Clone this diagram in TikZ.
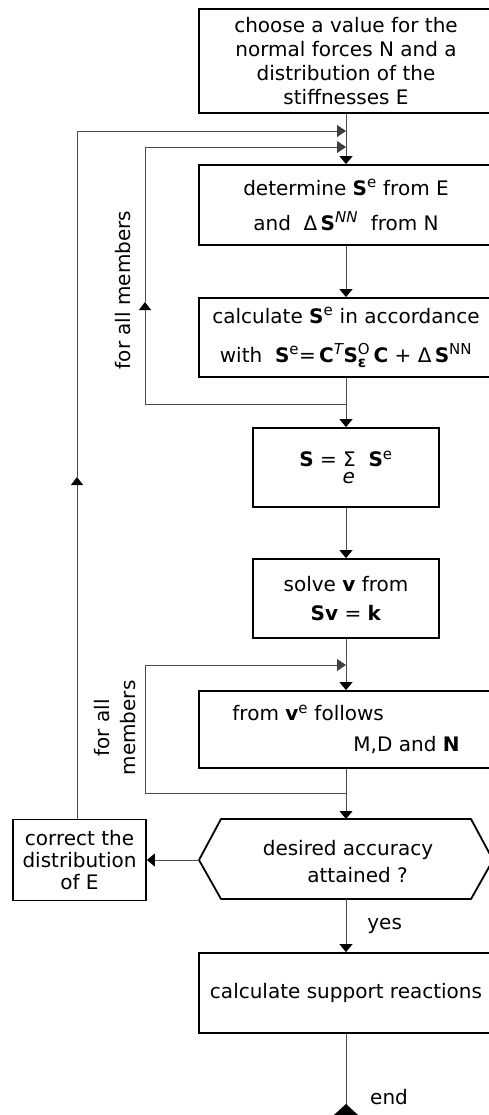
\documentclass[tikz,border=0pt]{standalone}
\usepackage{fontspec}
\usepackage{amsmath}
\setmainfont{DejaVu Sans}
\usetikzlibrary{arrows.meta}
\newcommand\supx[1]{\textsuperscript{\fontsize{15}{15}\selectfont #1}}
\newcommand\smallfs[1]{\mbox{\fontsize{15}{15}\selectfont #1}}
\begin{document}
\begin{tikzpicture}[x=1pt,y=-1pt,
  box/.style={draw, line width=1.8pt, inner sep=0pt, align=center,
    font=\fontsize{20}{24}\selectfont},
  boxline/.style={draw, line width=1.8pt, line join=round},
  conn/.style={line width=0.8pt, draw=black!70},
  txt/.style={font=\fontsize{20}{24}\selectfont, inner sep=0pt},
  tipd/.style={-{Triangle[width=13pt,length=8pt,color=black]}},
  tipr/.style={-{Triangle[width=12pt,length=9pt,color=black!75]}},
  tipu/.style={-{Triangle[width=12pt,length=8pt,color=black]}},
  tipe/.style={-{Triangle[reversed,width=24pt,length=11pt,color=black]}}
]
\useasboundingbox (0,0) rectangle (489,1115);
\clip (0,0) rectangle (489,1115);

% boxes
\node[box, minimum width=294pt, minimum height=104pt] (b1) at (346,61)
  {choose a value for the\\normal forces N and a\\distribution of the\\stiffnesses E};
\node[box, minimum width=294pt, minimum height=80pt, font=\fontsize{20}{35}\selectfont] (b2) at (346,205)
  {determine \textbf{S}\supx{e} from E\\and\ \ Δ\,\textbf{S}\supx{\itshape NN}\ \ from N};
\node[box, minimum width=294pt, minimum height=79pt, font=\fontsize{20}{39}\selectfont] (b3) at (346,337.5)
  {calculate \textbf{S}\supx{e} in accordance\\with\ \ \textbf{S}\supx{e}{=}\,\textbf{C}\supx{\itshape T}\textbf{S}$^{\smallfs{O}}_{\smallfs{\textbf{ε}}}$\,\textbf{C} + Δ\,\textbf{S}\supx{NN}};
\node[box, minimum width=186pt, minimum height=79pt] (b4) at (346,467.5)
  {\textbf{S} = Σ\llap{\raisebox{-17pt}{\itshape e}\hspace{1pt}}\ \ \textbf{S}\supx{e}};
\node[box, minimum width=186pt, minimum height=79pt, font=\fontsize{20}{29}\selectfont] (b5) at (346,598.5)
  {solve \textbf{v} from\\\textbf{Sv} = \textbf{k}};
\node[box, minimum width=294pt, minimum height=77pt, align=left, font=\fontsize{20}{31}\selectfont] (b6) at (346,729.5)
  {from \textbf{v}\supx{e} follows\\\hspace*{121pt}M,D and \textbf{N}};
\node[box, minimum width=294pt, minimum height=80pt] (b7) at (346,993)
  {calculate support reactions};
\node[box, minimum width=133pt, minimum height=81pt, font=\fontsize{20}{22}\selectfont] (corr) at (79.5,860)
  {correct the\\distribution\\of E};

% hexagon
\coordinate (hL) at (199,860);
\coordinate (hTL) at (221,819);
\coordinate (hTR) at (471,819);
\coordinate (hR) at (493,860);
\coordinate (hBR) at (471,899);
\coordinate (hBL) at (221,899);
\draw[boxline] (hL) -- (hTL) -- (hTR) -- (hR) -- (hBR) -- (hBL) -- cycle;
\node[txt, align=center, font=\fontsize{20}{27}\selectfont] (hex) at (348,862)
  {desired accuracy\\\ \ \ attained ?};

% loop coordinates
\coordinate (o1) at (77,131);
\coordinate (om) at (77,477);
\coordinate (i1) at (145,147);
\coordinate (i1m) at (145,302);
\coordinate (i1b) at (145,404);
\coordinate (j1) at (145,665);
\coordinate (j2) at (145,793);
\coordinate (endc) at (346,1115);

% main flow
\draw[conn, tipd] (b1.south) -- (b2.north);
\draw[conn, tipd] (b2.south) -- (b3.north);
\draw[conn, tipd] (b3.south) -- (b4.north);
\draw[conn, tipd] (b4.south) -- (b5.north);
\draw[conn, tipd] (b5.south) -- (b6.north);
\draw[conn, tipd] (b6.south) -- (b6.south |- hTL);
\draw[conn, tipd] (b6.south |- hBL) -- (b7.north)
  node[txt, pos=0.5, anchor=west, xshift=21pt] (yes) {yes};
\draw[conn, tipe] (b7.south) -- (endc);
\node[txt, anchor=west] (endl) at (370,1097) {end};
\draw[conn, tipd] (hL) -- (corr.east |- hL);

% outer loop
\draw[conn, tipu] (corr.north -| o1) -- (om);
\draw[conn, tipr] (om) -- (o1) -- (b1.south |- o1);

% inner loop 1
\draw[conn, tipu] (b3.south |- i1b) -- (i1b) -- (i1m);
\draw[conn, tipr] (i1m) -- (i1) -- (b1.south |- i1);

% inner loop 2
\draw[conn, tipr] (b6.south |- j2) -- (j2) -- (j1) -- (b5.south |- j1);

% rotated labels
\node[txt, rotate=90] (fam1) at (123,290) {for all members};
\node[txt, rotate=90, align=center, font=\fontsize{20}{26}\selectfont] (fam2) at (115,728) {for all\\members};
\end{tikzpicture}
\end{document}
